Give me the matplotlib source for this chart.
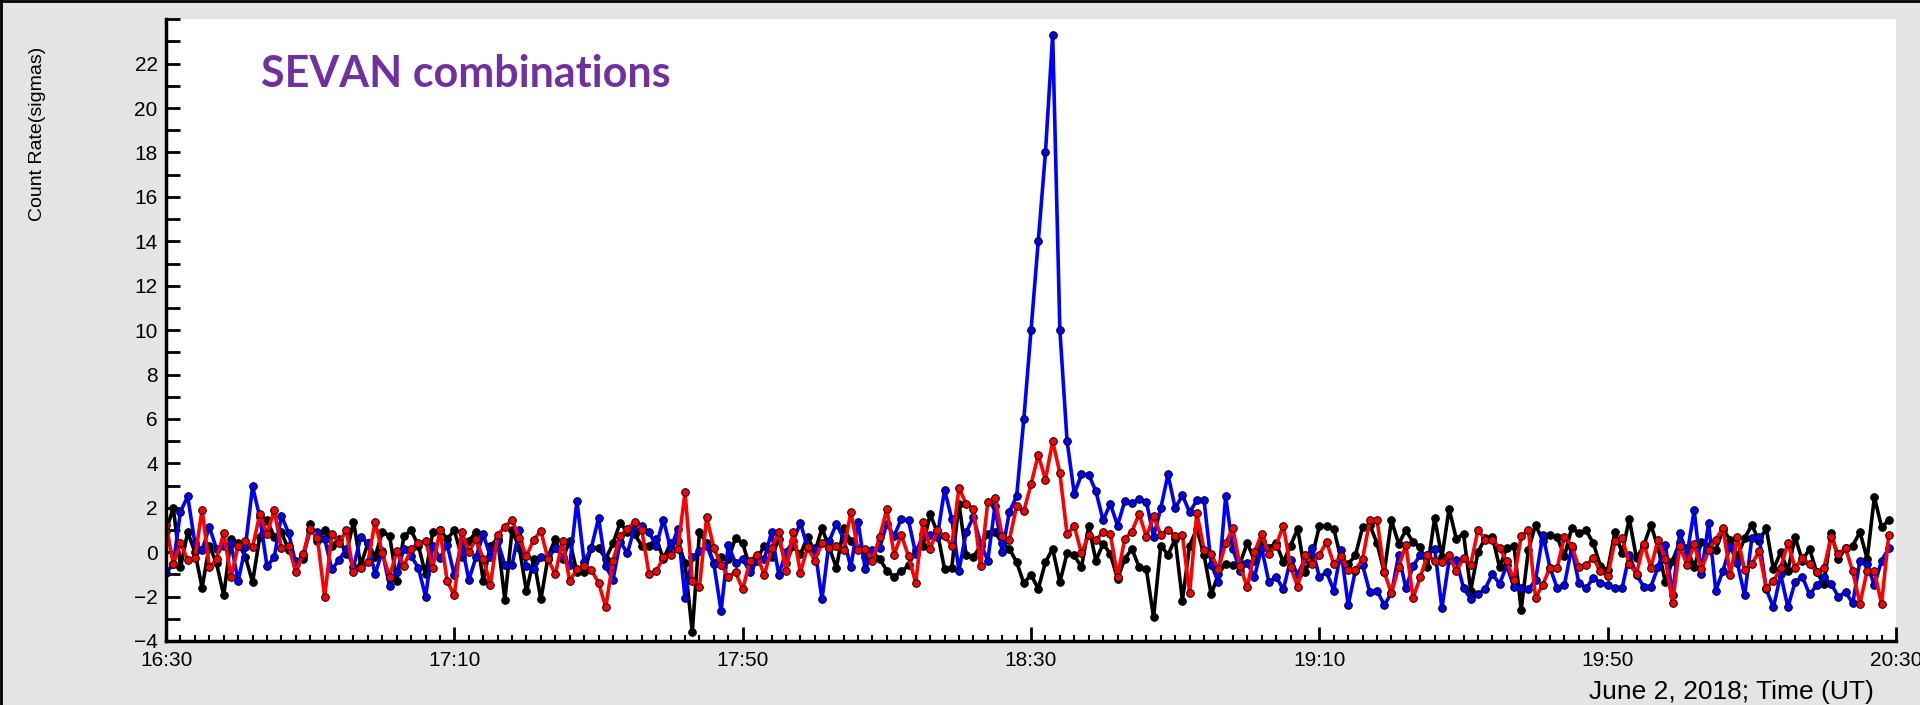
import numpy as np
import matplotlib.pyplot as plt
from matplotlib.ticker import MultipleLocator

# SEVAN count rates (sigmas), one value per minute from 16:30 UT
minutes = np.arange(240)

blue = [-0.93, -0.53, 1.83, 2.51, 0.41, 0.10, 1.13, 0.15, 0.30, 0.40,
        -1.31, 0.23, 2.96, 1.58, -0.63, -0.24, 1.65, 0.86, -0.53, -0.18,
        0.98, 0.90, 0.60, -0.78, -0.35, 0.15, -0.68, 0.68, 0.41, -0.98,
        0.03, -1.53, -0.90, 0.15, -0.18, -0.70, -2.00, 0.30, -0.27, 0.33,
        -1.05, 0.40, -1.25, -0.23, 0.80, -0.20, 0.50, -0.60, -0.56, 1.00,
        -0.63, -0.78, -0.23, -0.30, 0.20, -0.20, -0.60, 2.30, -0.45, 0.20,
        1.53, -0.63, -1.25, 0.48, -0.05, 1.13, 1.20, 0.90, 0.30, 1.46,
        0.15, 1.05, -2.06, -0.23, 0.03, 0.30, -0.53, -2.66, 0.33, -0.50,
        -0.30, -0.90, -0.40, -0.30, 0.90, -1.02, 0.00, 0.50, 1.32, 0.20,
        0.18, -2.13, 0.50, 1.28, 0.60, -0.68, 1.38, -0.78, 0.08, 0.20,
        1.28, 0.72, 1.50, 1.43, -0.08, 0.80, 0.78, 0.70, 2.81, 1.50,
        -0.83, 0.90, 1.58, 0.40, -0.38, 2.10, 0.00, 1.83, 2.51, 6.00,
        10.0, 14.0, 18.0, 23.3, 10.0, 5.00, 2.63, 3.50, 3.49, 2.74,
        1.43, 2.18, 1.20, 2.30, 2.23, 2.38, 2.28, 0.70, 1.98, 3.50,
        1.98, 2.56, 1.80, 2.33, 2.33, -0.56, -1.35, 2.51, 0.15, -0.83,
        -0.50, -1.10, 0.18, -1.35, -1.10, -1.68, -0.35, -1.02, -0.30, 0.20,
        -1.13, -0.90, -1.73, 0.08, -2.38, -0.83, -0.60, -1.80, -1.73, -2.38,
        -1.85, -0.12, -1.62, -0.63, -0.12, -0.12, 0.15, -2.53, -0.35, -0.35,
        -1.62, -2.10, -1.90, -1.65, -0.98, -1.43, -0.60, -1.58, -1.62, -1.68,
        -1.25, 0.78, -0.70, -1.62, -1.47, 0.20, -1.38, -1.62, -1.17, -1.38,
        -1.50, -1.62, -1.62, -0.12, -1.02, -1.55, -1.55, -0.65, 0.33, -1.93,
        0.87, -0.12, 1.88, -0.98, 1.32, -1.73, -0.83, 0.26, -0.50, -1.95,
        0.63, 0.70, -1.68, -2.48, -1.00, -2.48, -1.35, -1.10, -1.90, -1.50,
        -1.13, -1.43, -2.00, -1.80, -2.30, -0.38, -0.53, -1.50, -0.38, 0.18]

red = [1.23, -0.53, 0.41, -0.35, -0.27, 1.92, -0.68, -0.33, 0.87, -1.10,
       0.27, 0.50, 0.23, 1.70, 0.83, 1.88, 0.18, 0.26, -0.90, -0.08,
       1.05, 0.63, -2.03, 0.83, 0.41, 0.98, -0.90, -0.71, -0.45, 1.38,
       -0.05, -1.10, 0.03, -0.63, 0.15, 0.40, 0.50, -0.70, 0.98, -1.31,
       -1.95, 0.93, 0.00, 0.60, -0.30, -1.46, 0.78, 1.13, 1.46, 0.63,
       -0.18, 0.57, 0.95, -0.33, -1.00, 0.50, -1.31, -0.75, -0.63, -0.80,
       -1.38, -2.48, -0.38, 0.72, 1.05, 1.35, 1.00, -0.98, -0.87, -0.23,
       -0.12, 0.15, 2.70, -1.31, -1.55, 1.58, 0.18, -0.56, -1.10, -0.90,
       -1.68, -0.38, -0.12, -1.05, 0.18, 0.90, -0.86, 0.93, -0.93, 0.23,
       -0.38, 0.41, 0.18, 0.30, 0.08, 1.80, 0.10, 0.15, -0.38, 0.70,
       1.95, -0.12, 0.78, -0.18, -1.38, 1.38, 0.15, 0.98, 0.72, 0.30,
       2.89, 2.18, 1.95, -0.63, 2.25, 2.44, 0.72, 0.56, 2.06, 1.85,
       3.05, 4.39, 3.26, 5.00, 3.56, 0.80, 1.17, -0.05, 0.78, 0.53,
       0.93, 0.83, -1.10, 0.60, 0.93, 1.73, 0.68, 1.62, 0.78, 1.00,
       0.75, 0.78, -1.85, 1.76, 0.12, -0.08, -0.78, 0.41, 1.08, -0.63,
       -1.58, 0.00, 0.83, -0.08, 0.30, 1.20, -0.68, -1.55, -0.15, -0.53,
       -0.12, 0.45, -0.53, -0.18, -0.80, -0.80, -0.30, 1.43, 1.46, -0.90,
       -1.85, -0.68, 0.33, -2.06, -1.13, -0.12, -0.38, -0.45, -0.15, -0.87,
       -0.26, -0.56, 1.00, 0.57, 0.57, 0.18, -0.42, -1.25, 0.72, 1.00,
       -2.06, -1.46, -0.70, -0.70, 0.70, 0.30, -0.68, -0.60, -0.27, -0.86,
       -1.08, 0.50, 0.65, -0.53, -0.98, 0.38, -0.70, 0.57, -0.33, -2.30,
       0.26, -0.56, 0.35, -0.78, 0.08, 0.57, 1.08, -1.02, 0.70, -0.80,
       -0.53, 0.03, -1.60, -1.32, -0.70, 0.41, -0.70, -0.27, -0.53, -0.90,
       -0.72, 0.68, -0.08, 0.18, -0.87, -2.33, -0.83, -0.87, -2.33, 0.78]

black = [0.96, 2.00, -0.68, 0.90, 0.00, -1.60, 0.30, -0.50, -1.95, 0.60,
         0.40, -0.20, -1.35, 0.70, 1.45, 0.70, 0.90, 0.10, -0.40, -0.30,
         1.25, 0.50, 1.00, 0.30, 0.60, -0.10, 1.38, -0.60, 0.40, -0.20,
         0.90, 0.75, -1.28, 0.72, 0.98, 0.30, -1.00, 0.90, 1.00, 0.60,
         0.98, -0.20, 0.50, 0.90, -1.28, 0.30, 0.60, -2.15, 1.00, 0.20,
         -1.77, -0.30, -2.13, -0.20, 0.60, -0.30, 0.50, -0.90, -0.90, 0.20,
         0.20, -0.30, 0.40, 1.32, 0.90, 0.80, 0.30, 0.30, 0.60, -0.30,
         0.40, 0.50, -0.50, -3.60, 0.90, 0.40, -0.50, -0.20, -0.30, 0.63,
         0.40, -0.70, -0.30, 0.30, -0.20, 0.60, -0.50, 0.30, -0.10, 0.70,
         0.00, 1.08, 0.20, -0.70, 1.08, 0.50, 0.20, -0.20, 0.00, -0.30,
         -0.83, -1.10, -0.87, -0.60, 0.10, 0.30, 1.70, 0.90, -0.75, -0.70,
         2.18, -0.12, -0.23, 0.30, 0.80, 0.90, 0.41, 0.15, -0.45, -1.40,
         -1.02, -1.65, -0.45, 0.15, -1.35, -0.05, -0.15, -0.68, 1.17, -0.38,
         0.38, -0.08, -1.20, -0.30, 0.15, -0.68, -0.78, -2.93, 0.30, -0.12,
         0.60, -2.18, 0.30, 1.05, -0.12, -1.90, -0.98, -0.53, -0.60, -0.50,
         0.41, -0.38, 0.50, 0.20, 0.40, -0.45, 0.30, 1.05, -0.90, -0.20,
         1.17, 1.20, 1.05, -0.30, -0.53, -0.15, 1.13, 1.23, 0.40, -0.90,
         1.43, 0.38, 0.98, 0.45, 0.23, -0.68, 1.53, -0.23, 1.95, 0.60,
         0.83, -1.73, 0.00, 0.63, 0.70, -0.68, 0.20, 0.30, -2.60, 0.10,
         1.23, 0.50, 0.78, 0.68, -0.18, 1.08, 0.87, 0.98, 0.41, -0.63,
         -0.80, 0.90, -0.03, 1.50, -0.27, 0.30, 1.23, 0.20, -1.35, -0.38,
         0.45, 0.20, -0.68, 0.45, 0.30, 0.12, 1.00, 0.57, -0.20, 0.63,
         1.23, 0.50, 1.08, -0.78, 0.00, -0.83, 0.68, -0.38, 0.15, -0.90,
         -1.43, 0.87, -0.30, 0.18, 0.30, 0.90, -0.30, 2.48, 1.13, 1.43]

tick_minutes = [0, 40, 80, 120, 160, 200, 240]
tick_labels = ['16:30', '17:10', '17:50', '18:30', '19:10', '19:50', '20:30']

plt.rcParams['font.family'] = ['Liberation Sans', 'DejaVu Sans']

fig = plt.figure(figsize=(19.2, 7.05), dpi=100, facecolor='#e4e4e4')
ax = fig.add_axes([0.0865, 0.0908, 0.9010, 0.8819])
ax.set_facecolor('white')

for series, col in [(black, 'black'), (blue, '#0000ff'), (red, '#ff0000')]:
    ax.plot(minutes, series, color=col, lw=2.6, marker='o', ms=5.5,
            mfc=col, mec='black', mew=0.7)

ax.set_xlim(0, 240)
ax.set_ylim(-4, 24)
ax.set_xticks(tick_minutes)
ax.set_xticklabels(tick_labels)
ax.xaxis.set_minor_locator(MultipleLocator(2))
ax.set_yticks(np.arange(-4, 23, 2))
ax.yaxis.set_minor_locator(MultipleLocator(1))

ax.tick_params(axis='x', which='major', direction='in', length=10, width=2,
               pad=7, labelsize=15)
ax.tick_params(axis='x', which='minor', direction='in', length=4, width=1.5)
ax.tick_params(axis='y', which='both', direction='in', length=10, width=2,
               pad=6, labelsize=15)
# nudge the lowest y label up a little so it clears the time labels
ax.get_yticklabels()[0].set_va('center_baseline')

for s in ['top', 'right']:
    ax.spines[s].set_visible(False)
for s in ['left', 'bottom']:
    ax.spines[s].set_linewidth(2.5)

# labels
fig.text(0.0193, 0.81, 'Count Rate(sigmas)', rotation=90, fontsize=14,
         ha='center', va='center')
fig.text(0.976, 0.009, 'June 2, 2018; Time (UT)', fontsize=19,
         ha='right', va='baseline')
ax.text(0.055, 0.912, 'SEVAN combinations', transform=ax.transAxes,
        fontsize=31, fontweight='bold', color='#7030a0', family='Lato',
        ha='left', va='center')

# frame lines on the top and left edge
fig.add_artist(plt.Line2D([0, 1], [0.999, 0.999], color='black', lw=2,
                          transform=fig.transFigure))
fig.add_artist(plt.Line2D([0.0005, 0.0005], [0, 1], color='black', lw=2,
                          transform=fig.transFigure))

fig.savefig('out.png', dpi=100, facecolor=fig.get_facecolor())
